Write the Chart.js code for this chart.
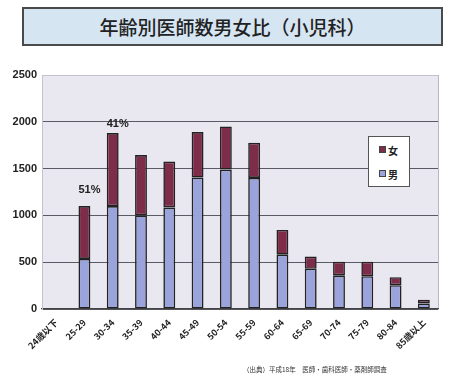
<!DOCTYPE html>
<html>
<head>
<meta charset="utf-8">
<script src="https://cdn.jsdelivr.net/npm/chart.js@4/dist/chart.umd.min.js"></script>
<style>
  html, body { margin: 0; padding: 0; background: #ffffff; }
  #wrap { position: relative; width: 450px; height: 380px; overflow: hidden; }
  #c { position: absolute; left: 0; top: 0; }
  #title {
    position: absolute; left: 22px; top: 7px; width: 417px; height: 35px;
    background: #d6e5f2; border: 2px solid #4a4a4a;
    font-family: "Noto Sans CJK JP", sans-serif; font-size: 19px; font-weight: 500;
    color: #222; text-align: center; line-height: 35px; letter-spacing: 0px;
  }
  #legend {
    position: absolute; left: 368px; top: 136px; width: 40px; height: 49px;
    background: #ffffff; border: 1px solid #555;
    font-family: "Noto Sans CJK JP", sans-serif; font-size: 10px; font-weight: bold; color: #222;
  }
  .li { position: absolute; left: 10px; height: 12px; line-height: 12px; }
  .sw { display: inline-block; width: 5px; height: 5px; border: 1px solid #444; vertical-align: 2px; margin-right: 2px; }
  #source {
    position: absolute; left: 243px; top: 364px;
    font-family: "Noto Sans CJK JP", sans-serif; font-size: 6.5px; color: #333; white-space: nowrap;
  }
</style>
</head>
<body>
<div id="wrap">
  <canvas id="c" width="450" height="380"></canvas>
  <div id="title">年齢別医師数男女比（小児科）</div>
  <div id="legend">
    <div class="li" style="top:8px"><span class="sw" style="background:#7d2c4a"></span>女</div>
    <div class="li" style="top:32px"><span class="sw" style="background:#9ba3db"></span>男</div>
  </div>
  <div id="source">（出典）平成18年　医師・歯科医師・薬剤師調査</div>
</div>
<script>
const categories = ["24歳以下","25-29","30-34","35-39","40-44","45-49","50-54","55-59","60-64","65-69","70-74","75-79","80-84","85歳以上"];
const maleValues   = [0, 535, 1100, 1000, 1085, 1405, 1490, 1400, 580, 430, 360, 350, 255, 60];
const femaleValues = [0, 565, 780, 645, 490, 485, 460, 375, 265, 130, 145, 155, 85, 40];
const yTicks = [0, 500, 1000, 1500, 2000, 2500];
const pctLabels = [{ index: 1, text: "51%" }, { index: 2, text: "41%" }];

const bgPlugin = {
  id: 'plotBg',
  beforeDraw(chart) {
    const { ctx, chartArea: a } = chart;
    ctx.save();
    ctx.fillStyle = '#e9e7f0';
    ctx.fillRect(a.left, a.top, a.right - a.left, a.bottom - a.top);
    ctx.strokeStyle = '#b8b6c4';
    ctx.lineWidth = 1;
    ctx.beginPath();
    ctx.moveTo(a.right + 0.5, a.top);
    ctx.lineTo(a.right + 0.5, a.bottom);
    ctx.stroke();
    ctx.restore();
  }
};

const pctPlugin = {
  id: 'pctLabels',
  afterDatasetsDraw(chart) {
    const { ctx, scales } = chart;
    ctx.save();
    ctx.font = 'bold 11px "Liberation Sans", Arial, sans-serif';
    ctx.fillStyle = '#222';
    ctx.textAlign = 'center';
    ctx.textBaseline = 'alphabetic';
    pctLabels.forEach(p => {
      const total = maleValues[p.index] + femaleValues[p.index];
      const x = scales.x.getPixelForValue(p.index) + 5;
      const y = scales.y.getPixelForValue(total) - (p.index === 1 ? 13 : 6);
      ctx.fillText(p.text, x, y);
    });
    ctx.restore();
  }
};

new Chart(document.getElementById('c'), {
  type: 'bar',
  data: {
    labels: categories,
    datasets: [
      { label: '男', data: maleValues, backgroundColor: '#9ba3db', borderColor: '#222', borderWidth: 1.6, borderSkipped: false },
      { label: '女', data: femaleValues, backgroundColor: '#7d2c4a', borderColor: '#222', borderWidth: 1.6, borderSkipped: false }
    ]
  },
  options: {
    responsive: false,
    animation: false,
    layout: { padding: { top: 75, right: 12, left: 0, bottom: 0 } },
    plugins: { legend: { display: false }, tooltip: { enabled: false }, title: { display: false } },
    datasets: { bar: { barPercentage: 0.42, categoryPercentage: 1.0 } },
    scales: {
      x: {
        stacked: true,
        grid: { display: false, drawTicks: false },
        border: { display: true, color: '#444', width: 1.2 },
        ticks: {
          autoSkip: false, maxRotation: 45, minRotation: 45, padding: 8,
          color: '#222',
          font: { family: '"Noto Sans CJK JP", "Liberation Sans", sans-serif', size: 9, weight: 'bold' }
        },
        afterFit(scale) { scale.height = 71; }
      },
      y: {
        stacked: true,
        min: 0, max: 2500,
        afterBuildTicks(scale) { scale.ticks = yTicks.map(v => ({ value: v })); },
        grid: {
          drawTicks: false,
          color: ctx => (ctx.tick && ctx.tick.value === 2500) ? '#c4c2cf' : '#5a5a66',
          lineWidth: 1
        },
        border: { display: true, color: '#c4c2cf', width: 1 },
        ticks: {
          padding: 5, color: '#222',
          callback: v => String(v),
          font: { family: '"Liberation Sans", Arial, sans-serif', size: 11, weight: 'bold' }
        },
        afterFit(scale) { scale.width = 42; }
      }
    }
  },
  plugins: [bgPlugin, pctPlugin]
});
</script>
</body>
</html>
